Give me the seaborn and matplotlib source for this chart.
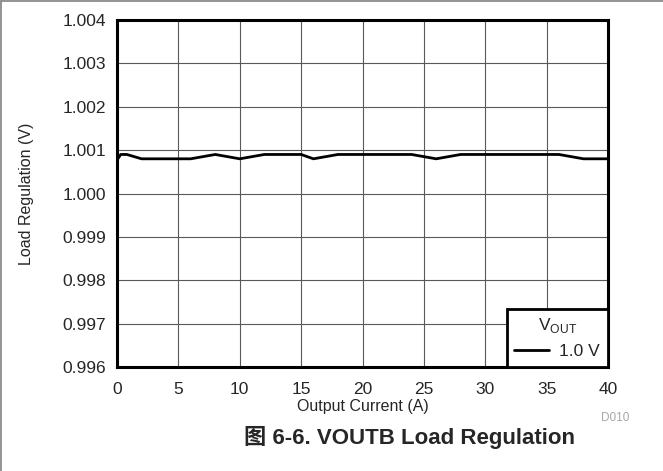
import pandas as pd
import seaborn as sns
import matplotlib.pyplot as plt
from matplotlib.lines import Line2D

# data
current = [0, 0.3, 0.8, 2, 6, 8, 10, 12, 15, 16, 18, 24, 26, 28, 36, 38, 40]
vout = [1.00077, 1.0009, 1.0009, 1.0008, 1.0008, 1.0009, 1.0008, 1.0009, 1.0009,
        1.0008, 1.0009, 1.0009, 1.0008, 1.0009, 1.0009, 1.0008, 1.0008]
series = ['1.0 V'] * len(current)
xticks = [0, 5, 10, 15, 20, 25, 30, 35, 40]
yticks = [0.996, 0.997, 0.998, 0.999, 1.000, 1.001, 1.002, 1.003, 1.004]

df = pd.DataFrame({'Output Current (A)': current, 'Load Regulation (V)': vout, 'VOUT': series})

sns.set_style('white')
plt.rcParams['font.family'] = ['Liberation Sans', 'Noto Sans CJK SC', 'DejaVu Sans']

fig = plt.figure(figsize=(6.63, 4.71), dpi=100)
ax = fig.add_axes([0.1765, 0.2208, 0.7406, 0.7367])

sns.lineplot(data=df, x='Output Current (A)', y='Load Regulation (V)', hue='VOUT',
             palette=['black'], linewidth=2.0, ax=ax)

ax.set_xlim(0, 40)
ax.set_ylim(0.996, 1.004)
ax.set_xticks(xticks)
ax.set_yticks(yticks)
ax.set_xticklabels([str(t) for t in xticks], fontsize=12.5)
ax.set_yticklabels([f'{t:.3f}' for t in yticks], fontsize=12.5)
ax.tick_params(axis='x', length=0, pad=11)
ax.tick_params(axis='y', length=0, pad=8)
ax.grid(True, color='0.35', linewidth=0.8)
ax.set_axisbelow(True)
for s in ax.spines.values():
    s.set_visible(True)
    s.set_color('black')
    s.set_linewidth(2.2)
ax.set_xlabel('Output Current (A)', fontsize=11.5, labelpad=1)
ax.set_ylabel('Load Regulation (V)', fontsize=11.5, labelpad=20)

leg = ax.legend(title='V$_\\mathregular{OUT}$', loc='lower right', borderaxespad=0,
                fancybox=False, framealpha=1, edgecolor='black', fontsize=12.5,
                title_fontsize=12.5, handlelength=2.0, handletextpad=0.6, borderpad=0.45)
leg.get_frame().set_linewidth(2.0)

fig.text(0.928, 0.113, 'D010', color='0.65', fontsize=8.5, ha='center', va='center')
fig.text(0.618, 0.072, '图 6-6. VOUTB Load Regulation', fontsize=16, fontweight='bold',
         ha='center', va='center')

# thin frame on top and left of the page
fig.add_artist(Line2D([0.0015, 1], [0.998, 0.998], transform=fig.transFigure, color='0.5', lw=1.2))
fig.add_artist(Line2D([0.0015, 0.0015], [0, 0.998], transform=fig.transFigure, color='0.5', lw=1.2))

fig.savefig('out.png', dpi=100)
